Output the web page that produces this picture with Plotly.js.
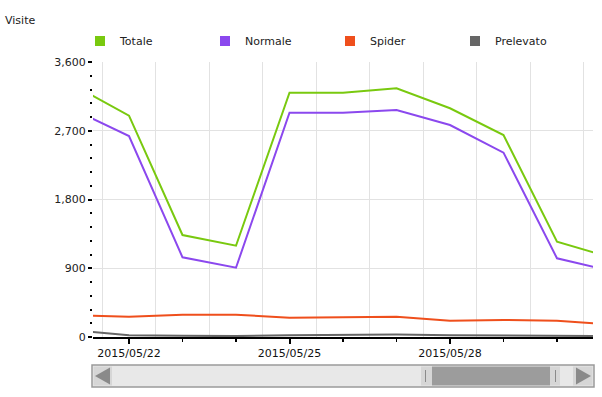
<!DOCTYPE html>
<html>
<head>
<meta charset="utf-8">
<script src="https://cdn.plot.ly/plotly-3.0.1.min.js"></script>
<style>
  html, body { margin: 0; padding: 0; background: #fff; }
  #chart { width: 602px; height: 397px; }
</style>
</head>
<body>
<div id="chart"></div>
<script>
// ---- data ----
const dates = ['2015-05-21', '2015-05-22', '2015-05-23', '2015-05-24', '2015-05-25', '2015-05-26',
               '2015-05-27', '2015-05-28', '2015-05-29', '2015-05-30', '2015-05-31'];
const totale    = [3281, 2897, 1335, 1195, 3198, 3198, 3256, 2994, 2644, 1248, 1042];
const normale   = [2963, 2631, 1043,  907, 2936, 2936, 2972, 2775, 2413, 1030,  867];
const spider    = [ 285,  266,  290,  292,  252,  258,  264,  213,  223,  213,  162];
const prelevato = [  85,   22,   15,   12,   22,   25,   32,   22,   15,   12,   12];
const seriesNames = ['Totale', 'Normale', 'Spider', 'Prelevato'];
const seriesData = [totale, normale, spider, prelevato];
const colors = ['#79c90f', '#8b48ee', '#ef4f1c', '#666666'];
const yTitle = 'Visite';
const xRange = ['2015-05-21 07:51', '2015-05-30 16:09'];

// ---- layout geometry (pixels) ----
const W = 602, H = 397;
const L = 93, R = 593, T = 62, B = 337;
const px = x => (x - L) / (R - L);
const py = y => (B - y) / (B - T);

const traces = [];
// gray line drawn first so it sits under others
const order = [3, 2, 1, 0];
order.forEach(i => {
  traces.push({
    type: 'scatter', mode: 'lines', x: dates, y: seriesData[i],
    line: { color: colors[i], width: 2 }, showlegend: false, hoverinfo: 'skip',
    cliponaxis: true
  });
});
// legend entries (square swatches)
seriesNames.forEach((n, i) => {
  traces.push({
    type: 'scatter', mode: 'markers', x: [null], y: [null], name: n,
    marker: { symbol: 'square', size: 10, color: colors[i] }, hoverinfo: 'skip'
  });
});
// carrier trace for the half-day grid axis
traces.push({
  type: 'scatter', mode: 'lines', x: dates, y: normale, xaxis: 'x2', yaxis: 'y',
  line: { width: 0, color: 'rgba(0,0,0,0)' }, showlegend: false, hoverinfo: 'skip'
});

// scrollbar decoration
const shapes = [];
function rect(x0, y0, x1, y1, fill, line, lw) {
  shapes.push({ type: 'rect', xref: 'paper', yref: 'paper', x0: px(x0), x1: px(x1), y0: py(y1), y1: py(y0),
    fillcolor: fill, line: { color: line || fill, width: lw || 0 }, layer: 'above' });
}
function tri(pts, fill) {
  const p = pts.map((q, k) => (k ? 'L' : 'M') + px(q[0]) + ',' + py(q[1])).join(' ') + ' Z';
  shapes.push({ type: 'path', xref: 'paper', yref: 'paper', path: p, fillcolor: fill, line: { width: 0 }, layer: 'above' });
}
function vline(x, y0, y1, c) {
  shapes.push({ type: 'line', xref: 'paper', yref: 'paper', x0: px(x), x1: px(x), y0: py(y1), y1: py(y0),
    line: { color: c, width: 1 }, layer: 'above' });
}
rect(92, 365, 594, 387, '#e8e8e8', '#9a9a9a', 1.5);
rect(93.5, 366.5, 112, 385.5, '#d6d6d6');
tri([[95, 376], [110, 367.5], [110, 384.5]], '#8a8a8a');
rect(573, 366.5, 592.5, 385.5, '#d6d6d6');
tri([[591, 376], [576, 367.5], [576, 384.5]], '#8a8a8a');
rect(421, 366.5, 432, 385.5, '#d6d6d6');
rect(432, 366.5, 550, 385.5, '#9c9c9c');
rect(550, 366.5, 560, 385.5, '#d6d6d6');
vline(425.5, 370, 382, '#8a8a8a');
vline(555.5, 370, 382, '#8a8a8a');

const font = { family: 'DejaVu Sans, Verdana, sans-serif', size: 11, color: '#222' };

const layout = {
  width: W, height: H,
  margin: { l: L, r: W - R, t: T, b: H - B, pad: 0 },
  paper_bgcolor: '#ffffff', plot_bgcolor: '#ffffff',
  font: font,
  showlegend: true,
  hovermode: false,
  title: { text: yTitle, font: { family: font.family, size: 11, color: '#222' },
           xref: 'container', yref: 'container', x: 5 / W, xanchor: 'left', y: 1 - 20 / H, yanchor: 'middle' },
  legend: {
    orientation: 'h', x: px(80), xanchor: 'left', y: 1 + (T - 41) / (B - T), yanchor: 'middle',
    entrywidth: 80, entrywidthmode: 'pixels',
    font: { family: font.family, size: 11, color: '#222' },
    bgcolor: 'rgba(0,0,0,0)', traceorder: 'normal'
  },
  xaxis: {
    type: 'date', range: xRange, tick0: '2015-05-22', dtick: 3 * 86400000, tickformat: '%Y/%m/%d',
    showgrid: false, zeroline: false, showline: true, linecolor: '#000', linewidth: 2,
    ticks: 'outside', ticklen: 5, tickwidth: 2, tickcolor: '#000',
    tickfont: { family: font.family, size: 11, color: '#111' },
    minor: { tick0: '2015-05-22', dtick: 86400000, ticks: 'outside', ticklen: 3, tickwidth: 1.5, tickcolor: '#000', showgrid: false },
    fixedrange: true
  },
  xaxis2: {
    type: 'date', range: xRange, overlaying: 'x', tick0: '2015-05-21 12:00', dtick: 86400000,
    showgrid: true, gridcolor: '#e2e2e2', gridwidth: 1, showticklabels: false, ticks: '',
    showline: false, zeroline: false, fixedrange: true
  },
  yaxis: {
    range: [0, 3600], tick0: 0, dtick: 900, tickformat: ',',
    showgrid: true, gridcolor: '#e2e2e2', gridwidth: 1, zeroline: false, showline: false,
    ticks: 'outside', ticklen: 4, tickwidth: 2, tickcolor: '#000',
    tickfont: { family: font.family, size: 11, color: '#222' },
    minor: { dtick: 180, ticks: 'outside', ticklen: 2, tickwidth: 2, tickcolor: '#000', showgrid: false },
    fixedrange: true
  },
  shapes: shapes
};

Plotly.newPlot('chart', traces, layout, { displayModeBar: false, staticPlot: true });
</script>
</body>
</html>
